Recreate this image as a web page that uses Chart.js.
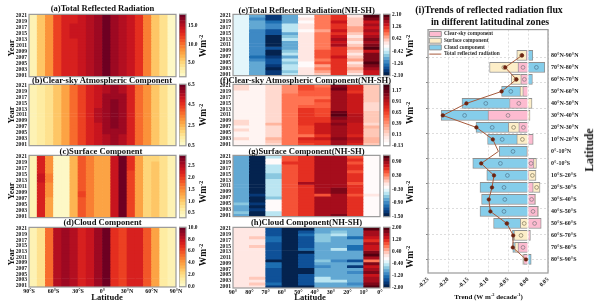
<!DOCTYPE html>
<html>
<head>
<meta charset="utf-8">
<title>Reflected radiation flux</title>
<script src="https://cdn.jsdelivr.net/npm/chart.js@4"></script>
<style>
    html, body { margin: 0; padding: 0; background: #ffffff; }
    #page { position: relative; width: 600px; height: 308px; overflow: hidden; font-family: "Liberation Serif", serif; font-weight: bold; color: #111; }
    #page canvas { position: absolute; }
    .label { position: absolute; white-space: nowrap; transform: translate(-50%, -50%); line-height: 1; }
    .label.up { transform: translate(-50%, -50%) rotate(-90deg); }
    .label sup { font-size: 0.62em; vertical-align: 0.5em; line-height: 0; }
</style>
</head>
<body>
<div id="page"></div>
<script>
const years = [2021, 2020, 2019, 2018, 2017, 2016, 2015, 2014, 2013, 2012, 2011, 2010, 2009, 2008, 2007, 2006, 2005, 2004, 2003, 2002, 2001];
const yearTicks = [2001, 2003, 2005, 2007, 2009, 2011, 2013, 2015, 2017, 2019, 2021];

// column centres of the latitude bands
const globalBands = [-85, -75, -65, -55, -45, -35, -25, -15, -5, 5, 15, 25, 35, 45, 55, 65, 75, 85];
const northBands = [85, 75, 65, 55, 45, 35, 25, 15, 5];

/* rows run from 2021 down to 2001, as in the picture */
const totalFlux = [
    [2.5, 5.6, 8.6, 11.6, 13.6, 13.6, 14.1, 15.1, 16.3, 17.9, 15.6, 15.1, 14.0, 12.6, 9.0, 6.1, 4.0, 2.0],
    [2.5, 5.6, 8.6, 11.6, 13.6, 13.6, 14.1, 15.1, 16.3, 17.9, 15.6, 15.1, 14.0, 12.6, 9.0, 6.1, 4.0, 2.0],
    [2.5, 5.6, 8.6, 11.6, 13.6, 13.6, 14.1, 15.1, 16.3, 17.9, 15.6, 15.1, 14.0, 12.6, 9.0, 6.1, 4.0, 2.0],
    [2.5, 5.6, 8.6, 11.6, 13.6, 13.9, 14.1, 15.1, 16.3, 18.0, 15.6, 15.1, 14.0, 12.6, 9.1, 6.1, 4.0, 2.0],
    [2.5, 5.6, 8.6, 11.6, 13.6, 13.9, 14.1, 15.1, 16.3, 18.0, 15.6, 15.1, 14.0, 12.6, 9.1, 6.1, 4.0, 2.0],
    [2.5, 5.6, 8.6, 11.6, 13.6, 13.9, 14.1, 15.1, 16.3, 18.0, 15.9, 15.1, 14.0, 12.6, 9.1, 6.1, 4.0, 2.0],
    [2.5, 5.6, 8.6, 11.6, 13.6, 13.9, 14.1, 15.1, 16.3, 18.0, 15.9, 15.1, 14.0, 12.6, 9.1, 6.1, 4.0, 2.0],
    [2.5, 5.6, 8.6, 11.9, 13.6, 13.9, 14.1, 15.1, 16.3, 18.0, 15.9, 15.1, 14.0, 12.6, 9.1, 6.1, 4.0, 2.0],
    [2.5, 5.6, 8.6, 11.9, 13.6, 13.6, 14.1, 15.1, 16.3, 18.0, 15.9, 15.1, 14.2, 12.6, 9.1, 6.1, 4.0, 2.0],
    [2.5, 5.6, 8.6, 11.9, 13.6, 13.6, 14.1, 15.1, 16.3, 18.0, 15.9, 15.1, 14.2, 12.6, 9.1, 6.1, 4.0, 2.0],
    [2.5, 5.6, 8.6, 11.9, 13.6, 13.6, 14.1, 15.1, 16.3, 18.0, 15.9, 15.1, 14.2, 12.6, 9.1, 6.1, 4.0, 2.0],
    [2.5, 5.6, 8.6, 11.9, 13.6, 13.6, 14.1, 15.1, 16.3, 18.0, 15.6, 15.1, 14.2, 12.6, 9.1, 6.1, 4.0, 2.0],
    [2.5, 5.6, 8.6, 11.9, 13.6, 13.6, 14.1, 15.1, 16.3, 18.0, 15.6, 15.1, 14.2, 12.6, 9.1, 6.1, 4.0, 2.0],
    [2.5, 5.6, 8.6, 11.9, 13.6, 13.6, 14.1, 15.1, 16.3, 18.0, 15.6, 15.1, 14.2, 12.6, 9.1, 6.1, 4.0, 2.0],
    [2.5, 5.6, 8.6, 11.6, 13.6, 13.6, 14.1, 15.1, 16.3, 18.0, 15.6, 15.1, 14.2, 12.6, 9.1, 6.1, 4.0, 2.0],
    [2.5, 5.6, 8.6, 11.6, 13.6, 13.6, 14.1, 15.1, 16.3, 18.0, 15.6, 15.1, 14.2, 12.6, 9.1, 6.1, 4.0, 2.0],
    [2.5, 5.6, 8.6, 11.6, 13.6, 13.6, 14.1, 15.1, 16.3, 18.0, 15.6, 15.1, 14.2, 12.6, 9.1, 6.1, 4.0, 2.0],
    [2.5, 5.6, 8.6, 11.6, 13.6, 13.6, 14.1, 15.1, 16.3, 17.9, 15.6, 15.1, 14.0, 12.6, 9.1, 6.1, 4.0, 2.0],
    [2.5, 5.6, 8.6, 11.6, 13.6, 13.6, 14.1, 15.1, 16.3, 17.9, 15.6, 15.1, 14.0, 12.6, 9.0, 6.1, 4.0, 2.0],
    [2.5, 5.6, 8.6, 11.6, 13.6, 13.6, 14.1, 15.1, 16.3, 17.9, 15.6, 15.1, 14.0, 12.6, 9.0, 6.1, 4.0, 2.0],
    [2.5, 5.6, 8.6, 11.6, 13.6, 13.6, 14.1, 15.1, 16.3, 17.9, 15.6, 15.1, 14.0, 12.6, 9.0, 6.1, 4.0, 2.0]
];
const clearFlux = [
    [1.0, 1.2, 1.6, 2.2, 2.9, 3.5, 4.3, 4.8, 5.3, 5.5, 5.7, 5.5, 4.7, 3.8, 3.0, 2.1, 1.4, 0.9],
    [1.0, 1.2, 1.6, 2.2, 2.9, 3.5, 4.3, 4.8, 5.3, 5.5, 5.7, 5.5, 4.7, 3.8, 3.0, 2.1, 1.4, 0.9],
    [1.0, 1.2, 1.6, 2.2, 2.9, 3.5, 4.3, 4.8, 5.3, 5.5, 5.7, 5.5, 4.7, 3.8, 3.0, 2.1, 1.4, 0.9],
    [1.0, 1.2, 1.6, 2.2, 2.9, 3.5, 4.3, 4.8, 5.3, 5.6, 5.8, 5.6, 4.7, 3.8, 3.0, 2.1, 1.4, 0.9],
    [1.0, 1.2, 1.6, 2.2, 2.9, 3.5, 4.3, 4.8, 5.3, 5.6, 5.8, 5.6, 4.7, 3.8, 3.0, 2.1, 1.4, 0.9],
    [1.0, 1.2, 1.6, 2.2, 2.9, 3.5, 4.3, 4.8, 5.3, 5.6, 5.9, 5.6, 4.7, 3.8, 3.0, 2.1, 1.4, 0.9],
    [1.0, 1.2, 1.6, 2.2, 2.9, 3.5, 4.3, 4.8, 5.3, 5.6, 5.9, 5.6, 4.7, 3.8, 3.0, 2.1, 1.4, 0.9],
    [1.0, 1.2, 1.6, 2.2, 2.9, 3.5, 4.3, 4.8, 5.3, 5.6, 5.9, 5.7, 4.7, 3.8, 3.0, 2.1, 1.4, 0.9],
    [1.0, 1.2, 1.6, 2.2, 2.9, 3.5, 4.3, 4.8, 5.4, 5.7, 6.0, 5.7, 4.7, 3.8, 3.0, 2.1, 1.4, 0.9],
    [1.0, 1.2, 1.6, 2.2, 2.9, 3.5, 4.3, 4.8, 5.4, 5.7, 6.0, 5.7, 4.8, 3.8, 3.0, 2.1, 1.4, 0.9],
    [1.0, 1.2, 1.6, 2.2, 2.9, 3.5, 4.3, 4.8, 5.4, 5.7, 6.0, 5.7, 4.8, 3.8, 3.0, 2.1, 1.4, 0.9],
    [1.0, 1.2, 1.6, 2.2, 2.9, 3.5, 4.3, 4.8, 5.4, 5.7, 6.0, 5.7, 4.8, 3.8, 3.0, 2.1, 1.4, 0.9],
    [1.0, 1.2, 1.6, 2.2, 2.9, 3.5, 4.3, 4.8, 5.4, 5.7, 5.9, 5.6, 4.8, 3.8, 3.0, 2.1, 1.4, 0.9],
    [1.0, 1.2, 1.6, 2.2, 2.9, 3.5, 4.3, 4.8, 5.3, 5.6, 5.9, 5.6, 4.7, 3.8, 3.0, 2.1, 1.4, 0.9],
    [1.0, 1.2, 1.6, 2.2, 2.9, 3.5, 4.3, 4.8, 5.3, 5.6, 5.9, 5.6, 4.7, 3.8, 3.0, 2.1, 1.4, 0.9],
    [1.0, 1.2, 1.6, 2.2, 2.9, 3.5, 4.3, 4.8, 5.3, 5.6, 5.8, 5.6, 4.7, 3.8, 3.0, 2.1, 1.4, 0.9],
    [1.0, 1.2, 1.6, 2.2, 2.9, 3.5, 4.3, 4.8, 5.3, 5.6, 5.8, 5.6, 4.7, 3.8, 3.0, 2.1, 1.4, 0.9],
    [1.0, 1.2, 1.6, 2.2, 2.9, 3.5, 4.3, 4.8, 5.3, 5.5, 5.8, 5.5, 4.7, 3.8, 3.0, 2.1, 1.4, 0.9],
    [1.0, 1.2, 1.6, 2.2, 2.9, 3.5, 4.3, 4.8, 5.3, 5.5, 5.7, 5.5, 4.7, 3.8, 3.0, 2.1, 1.4, 0.9],
    [1.0, 1.2, 1.6, 2.2, 2.9, 3.5, 4.3, 4.8, 5.3, 5.5, 5.7, 5.5, 4.7, 3.8, 3.0, 2.1, 1.4, 0.9],
    [1.0, 1.2, 1.6, 2.2, 2.9, 3.5, 4.3, 4.8, 5.3, 5.5, 5.7, 5.5, 4.7, 3.8, 3.0, 2.1, 1.4, 0.9]
];
const surfaceFlux = [
    [0.55, 2.25, 1.40, 0.42, 0.42, 1.15, 1.85, 1.60, 1.35, 1.35, 2.35, 2.80, 2.05, 1.35, 0.90, 0.95, 0.75, 0.45],
    [0.55, 2.25, 1.40, 0.42, 0.42, 1.15, 1.85, 1.60, 1.35, 1.35, 2.35, 2.80, 2.05, 1.35, 0.90, 0.95, 0.75, 0.45],
    [0.55, 2.25, 1.40, 0.42, 0.42, 1.15, 1.85, 1.60, 1.35, 1.35, 2.35, 2.80, 2.05, 1.35, 0.90, 1.05, 0.75, 0.45],
    [0.55, 2.25, 1.40, 0.42, 0.42, 1.15, 1.85, 1.60, 1.35, 1.35, 2.35, 2.80, 2.05, 1.35, 0.90, 1.05, 0.75, 0.45],
    [0.55, 2.25, 1.40, 0.42, 0.42, 1.15, 1.85, 1.60, 1.35, 1.35, 2.35, 2.80, 2.05, 1.35, 0.90, 1.05, 0.75, 0.45],
    [0.55, 2.25, 1.40, 0.42, 0.42, 1.15, 1.85, 1.60, 1.35, 1.35, 2.35, 2.80, 1.90, 1.35, 0.90, 1.05, 0.75, 0.45],
    [0.55, 2.30, 1.50, 0.42, 0.42, 1.15, 1.85, 1.60, 1.35, 1.35, 2.35, 2.80, 1.90, 1.35, 0.90, 1.05, 0.75, 0.45],
    [0.55, 2.30, 1.50, 0.42, 0.42, 1.15, 1.85, 1.60, 1.35, 1.35, 2.35, 2.80, 1.90, 1.35, 0.90, 1.05, 0.75, 0.45],
    [0.55, 2.30, 1.50, 0.42, 0.42, 1.15, 1.85, 1.60, 1.35, 1.35, 2.35, 2.80, 1.90, 1.35, 0.90, 1.05, 0.75, 0.45],
    [0.55, 2.25, 1.40, 0.42, 0.42, 1.15, 1.85, 1.60, 1.35, 1.35, 2.35, 2.80, 1.90, 1.35, 0.90, 1.05, 0.75, 0.45],
    [0.55, 2.25, 1.40, 0.42, 0.42, 1.15, 1.85, 1.60, 1.35, 1.35, 2.35, 2.80, 1.90, 1.35, 0.90, 1.05, 0.75, 0.45],
    [0.55, 2.25, 1.40, 0.42, 0.42, 1.15, 1.85, 1.60, 1.35, 1.35, 2.35, 2.80, 1.90, 1.35, 0.90, 1.05, 0.75, 0.45],
    [0.55, 2.25, 1.40, 0.42, 0.42, 1.15, 2.00, 1.60, 1.35, 1.35, 2.35, 2.80, 1.90, 1.35, 0.90, 1.05, 0.75, 0.45],
    [0.55, 2.25, 1.40, 0.42, 0.42, 1.15, 2.00, 1.60, 1.35, 1.35, 2.35, 2.80, 1.90, 1.35, 0.90, 1.05, 0.75, 0.45],
    [0.55, 2.25, 1.30, 0.42, 0.42, 1.15, 1.85, 1.60, 1.35, 1.35, 2.35, 2.80, 1.90, 1.35, 0.90, 1.05, 0.75, 0.45],
    [0.55, 2.25, 1.30, 0.42, 0.42, 1.15, 1.85, 1.60, 1.35, 1.35, 2.35, 2.80, 1.90, 1.35, 0.90, 1.05, 0.75, 0.45],
    [0.55, 2.25, 1.30, 0.42, 0.42, 1.15, 1.85, 1.60, 1.35, 1.35, 2.35, 2.80, 1.90, 1.35, 0.90, 1.00, 0.75, 0.45],
    [0.55, 2.25, 1.30, 0.42, 0.42, 1.15, 1.85, 1.60, 1.35, 1.35, 2.35, 2.80, 1.90, 1.35, 0.90, 1.00, 0.75, 0.45],
    [0.55, 2.25, 1.30, 0.42, 0.42, 1.15, 1.85, 1.60, 1.35, 1.35, 2.35, 2.80, 1.90, 1.35, 0.90, 1.00, 0.75, 0.45],
    [0.55, 2.25, 1.30, 0.42, 0.42, 1.15, 1.85, 1.60, 1.35, 1.35, 2.35, 2.80, 1.90, 1.35, 0.90, 1.00, 0.75, 0.45],
    [0.55, 2.25, 1.30, 0.42, 0.42, 1.15, 1.85, 1.60, 1.35, 1.35, 2.35, 2.80, 1.90, 1.35, 0.90, 1.00, 0.75, 0.45]
];
const cloudFlux = [
    [0.7, 1.8, 5.2, 8.0, 8.7, 8.0, 7.0, 7.6, 8.5, 9.8, 6.6, 6.2, 7.4, 7.4, 5.9, 3.6, 1.2, 0.8],
    [0.7, 1.8, 5.2, 8.0, 8.7, 8.0, 7.0, 7.6, 8.5, 9.8, 6.6, 6.2, 7.4, 7.4, 5.9, 3.6, 1.2, 0.8],
    [0.7, 1.8, 5.2, 8.0, 8.7, 8.0, 7.0, 7.6, 8.5, 9.8, 6.9, 6.2, 7.4, 7.4, 5.9, 3.6, 1.2, 0.8],
    [0.7, 1.8, 5.2, 8.0, 8.7, 8.0, 7.0, 7.6, 8.5, 9.8, 6.9, 6.2, 7.4, 7.4, 5.9, 3.6, 1.2, 0.8],
    [0.7, 1.8, 5.2, 8.0, 8.7, 8.0, 7.0, 7.6, 8.5, 9.8, 6.6, 6.2, 7.4, 7.4, 5.9, 3.6, 1.2, 0.8],
    [0.7, 1.8, 5.2, 8.0, 8.7, 8.0, 7.0, 7.6, 8.5, 9.8, 6.6, 6.2, 7.4, 7.4, 5.9, 3.6, 1.2, 0.8],
    [0.7, 1.8, 5.2, 8.0, 8.7, 8.0, 7.0, 7.6, 8.5, 9.8, 6.6, 6.2, 7.4, 7.4, 5.9, 3.6, 1.2, 0.8],
    [0.7, 1.8, 5.2, 8.0, 8.7, 8.0, 7.0, 7.6, 8.5, 9.8, 6.9, 6.2, 7.4, 7.4, 5.9, 3.6, 1.2, 0.8],
    [0.7, 1.8, 5.2, 8.0, 8.7, 8.0, 7.0, 7.6, 8.5, 9.8, 6.9, 6.2, 7.4, 7.4, 5.9, 3.6, 1.2, 0.8],
    [0.7, 1.8, 5.2, 8.0, 8.7, 8.0, 7.0, 7.6, 8.5, 9.8, 6.6, 6.2, 7.4, 7.4, 5.9, 3.6, 1.2, 0.8],
    [0.7, 1.8, 5.2, 8.0, 8.7, 8.0, 7.0, 7.6, 8.5, 9.8, 6.6, 6.2, 7.4, 7.4, 5.9, 3.6, 1.2, 0.8],
    [0.7, 1.8, 5.2, 8.0, 8.7, 8.0, 7.0, 7.6, 8.5, 9.8, 6.6, 6.2, 7.4, 7.4, 5.9, 3.6, 1.2, 0.8],
    [0.7, 1.8, 5.2, 8.0, 8.7, 8.0, 7.0, 7.9, 8.5, 9.8, 6.9, 6.2, 7.4, 7.4, 5.9, 3.6, 1.2, 0.8],
    [0.7, 1.8, 5.2, 8.0, 8.7, 8.0, 7.0, 7.6, 8.5, 9.8, 6.9, 6.2, 7.4, 7.4, 5.9, 3.6, 1.2, 0.8],
    [0.7, 1.8, 5.2, 8.0, 8.7, 8.0, 7.0, 7.6, 8.5, 9.8, 6.9, 6.2, 7.4, 7.4, 5.9, 3.6, 1.2, 0.8],
    [0.7, 1.8, 5.2, 8.0, 8.7, 8.0, 7.0, 7.6, 8.5, 9.8, 6.9, 6.2, 7.4, 7.4, 5.9, 3.6, 1.2, 0.8],
    [0.7, 1.8, 5.2, 8.0, 8.7, 8.0, 7.0, 7.6, 8.5, 9.8, 6.9, 6.2, 7.4, 7.4, 5.9, 3.6, 1.2, 0.8],
    [0.7, 1.8, 5.2, 8.0, 8.7, 8.0, 7.0, 7.6, 8.5, 9.8, 6.6, 6.2, 7.4, 7.4, 5.9, 3.6, 1.2, 0.8],
    [0.7, 1.8, 5.2, 8.0, 8.7, 8.0, 7.0, 7.6, 8.5, 9.8, 6.6, 6.2, 7.4, 7.4, 5.9, 3.6, 1.2, 0.8],
    [0.7, 1.8, 5.2, 8.0, 8.7, 8.0, 7.0, 7.6, 8.5, 9.8, 6.6, 6.2, 7.4, 7.4, 5.9, 3.6, 1.2, 0.8],
    [0.7, 1.8, 5.2, 8.0, 8.7, 8.0, 7.0, 7.6, 8.5, 9.8, 6.6, 6.2, 7.4, 7.4, 5.9, 3.6, 1.2, 0.8]
];
const totalDiff = [
    [-0.30, -1.00, -1.70, -0.85, -0.20, 0.65, 1.10, 0.10, 2.00],
    [-0.30, -1.10, -1.70, -0.85, 0.20, 0.70, 1.25, 0.30, 1.85],
    [-0.30, -0.85, -1.35, -0.85, -0.10, 0.75, 1.35, 0.25, 1.45],
    [-0.30, -1.05, -1.25, -0.55, 0.10, 0.80, 1.10, 0.40, 1.55],
    [-0.30, -1.05, -1.25, -0.55, 0.05, 0.80, 1.25, 0.45, 1.35],
    [-0.30, -1.10, -1.60, -0.50, -0.10, 0.55, 1.30, 0.45, 1.50],
    [-0.30, -1.10, -1.65, -0.85, 0.10, 0.70, 1.15, 0.30, 1.40],
    [-0.30, -1.10, -1.90, -0.80, 0.15, 0.75, 1.40, 0.20, 1.55],
    [-0.30, -1.10, -2.05, -0.50, 0.05, 0.70, 1.55, 0.35, 1.70],
    [-0.30, -1.10, -2.05, -0.85, 0.20, 0.80, 1.35, 0.15, 1.60],
    [-0.30, -1.10, -2.05, -0.85, 0.15, 0.65, 1.50, 0.40, 1.75],
    [-0.30, -1.10, -1.55, -0.85, 0.15, 0.65, 1.15, 0.45, 2.05],
    [-0.30, -1.10, -2.05, -0.65, 0.15, 0.85, 1.25, 0.35, 1.30],
    [-0.30, -1.10, -2.05, -0.55, 0.15, 0.85, 1.15, 0.20, 1.70],
    [-0.30, -1.35, -1.70, -0.85, 0.15, 0.85, 1.30, 0.35, 1.75],
    [-0.30, -1.10, -1.65, -0.60, 0.15, 0.80, 1.10, 0.45, 1.80],
    [-0.30, -0.95, -1.65, -0.80, -0.05, 0.90, 1.25, 0.15, 1.95],
    [-0.30, -1.05, -1.75, -0.55, -0.05, 0.60, 1.10, 0.40, 1.75],
    [-0.30, -0.90, -1.90, -0.55, 0.10, 0.70, 1.10, 0.45, 1.55],
    [-0.30, -1.05, -1.80, -0.65, 0.10, 0.60, 1.10, 0.30, 1.35],
    [-0.30, -1.05, -1.70, -0.55, 0.05, 0.25, 1.15, 0.20, 1.40]
];
const clearDiff = [
    [0.10, -0.05, 0.10, 0.42, 0.60, 0.50, 1.05, 0.75, 0.22],
    [0.10, -0.05, 0.10, 0.42, 0.60, 0.55, 1.12, 0.75, 0.22],
    [-0.05, -0.05, 0.10, 0.42, 0.55, 0.55, 1.00, 0.70, 0.22],
    [-0.05, -0.05, 0.10, 0.45, 0.55, 0.55, 1.00, 0.85, 0.18],
    [-0.05, -0.05, 0.10, 0.45, 0.50, 0.50, 1.00, 0.85, 0.18],
    [-0.05, -0.05, 0.10, 0.45, 0.50, 0.62, 1.00, 0.85, 0.18],
    [-0.05, -0.05, 0.10, 0.45, 0.50, 0.55, 1.00, 0.85, 0.15],
    [-0.05, -0.05, 0.10, 0.45, 0.55, 0.55, 1.00, 0.85, 0.15],
    [-0.05, -0.05, 0.10, 0.52, 0.70, 0.60, 1.00, 0.85, 0.15],
    [-0.05, -0.05, 0.10, 0.52, 0.70, 0.65, 1.15, 0.85, 0.22],
    [-0.05, -0.05, 0.10, 0.45, 0.70, 0.65, 1.22, 0.95, 0.22],
    [-0.05, -0.05, 0.10, 0.45, 0.70, 0.70, 1.05, 0.90, 0.20],
    [0.10, -0.05, 0.10, 0.45, 0.72, 0.70, 1.00, 0.90, 0.20],
    [0.10, -0.05, 0.25, 0.50, 0.72, 0.85, 1.10, 0.85, 0.10],
    [-0.05, -0.05, 0.10, 0.50, 0.60, 0.85, 1.00, 0.85, 0.28],
    [0.10, -0.05, 0.10, 0.50, 0.60, 0.85, 1.00, 0.85, 0.22],
    [-0.05, -0.05, 0.10, 0.50, 0.60, 0.85, 1.00, 0.85, 0.22],
    [-0.05, -0.05, 0.10, 0.45, 0.50, 0.70, 1.00, 0.80, 0.18],
    [0.10, -0.05, 0.25, 0.45, 0.80, 0.85, 1.05, 0.95, 0.25],
    [-0.05, -0.05, 0.20, 0.52, 0.70, 0.70, 1.00, 0.85, 0.25],
    [-0.05, -0.05, 0.10, 0.50, 0.62, 0.70, 1.00, 0.75, 0.20]
];
const surfaceDiff = [
    [-0.75, -1.45, -0.45, 0.40, 0.55, 0.80, 0.80, 0.50, -0.22],
    [-0.75, -1.45, -0.25, 0.40, 0.55, 0.80, 0.80, 0.55, -0.22],
    [-0.75, -1.45, -0.25, 0.60, 0.55, 0.80, 0.80, 0.40, -0.22],
    [-0.75, -1.45, -0.45, 0.40, 0.55, 0.80, 0.80, 0.55, -0.22],
    [-0.75, -1.45, -0.45, 0.40, 0.55, 0.80, 0.80, 0.55, -0.22],
    [-0.75, -1.45, -0.55, 0.40, 0.55, 0.80, 0.80, 0.50, -0.22],
    [-0.75, -1.45, -0.65, 0.40, 0.55, 0.80, 0.80, 0.55, -0.22],
    [-0.75, -1.45, -0.65, 0.40, 0.55, 0.80, 0.80, 0.55, -0.22],
    [-0.75, -1.45, -0.50, 0.40, 0.55, 0.80, 0.80, 0.55, -0.22],
    [-0.75, -1.45, -0.50, 0.40, 0.80, 0.80, 0.80, 0.50, -0.22],
    [-0.75, -1.45, -0.50, 0.40, 0.55, 0.80, 0.80, 0.55, -0.22],
    [-0.75, -1.45, -0.50, 0.40, 0.55, 0.80, 0.95, 0.55, -0.22],
    [-0.75, -1.45, -0.50, 0.40, 0.55, 0.80, 0.95, 0.55, -0.22],
    [-0.75, -1.35, -0.50, 0.40, 0.55, 0.50, 0.80, 0.40, -0.10],
    [-0.75, -1.45, -0.60, 0.40, 0.55, 0.80, 0.80, 0.55, -0.22],
    [-0.75, -1.45, -0.25, 0.40, 0.55, 0.80, 0.80, 0.55, -0.22],
    [-0.60, -1.35, -0.25, 0.40, 0.55, 0.80, 0.80, 0.55, -0.22],
    [-0.75, -1.45, -0.25, 0.40, 0.55, 0.80, 0.80, 0.55, -0.22],
    [-0.75, -1.35, -0.25, 0.40, 0.55, 0.80, 0.80, 0.55, -0.22],
    [-0.65, -1.45, -0.45, 0.40, 0.55, 0.80, 0.80, 0.55, -0.22],
    [-0.75, -1.45, -0.45, 0.40, 0.55, 0.80, 0.95, 0.55, -0.22]
];
const cloudDiff = [
    [0.12, 0.12, -1.45, -1.90, -1.85, -1.00, -0.85, -1.00, 1.90],
    [0.00, 0.12, -1.45, -1.90, -1.45, -0.85, -0.65, -1.00, 1.55],
    [0.12, 0.12, -1.45, -1.85, -1.30, -0.75, -0.55, -0.85, 1.50],
    [0.12, 0.30, -1.25, -1.90, -1.50, -0.65, -0.85, -1.25, 1.30],
    [0.12, 0.12, -1.25, -1.90, -1.50, -0.75, -0.85, -0.85, 1.15],
    [0.05, 0.12, -1.45, -1.85, -1.50, -0.95, -0.85, -1.00, 1.45],
    [0.12, 0.30, -1.45, -1.90, -1.45, -0.95, -0.85, -1.25, 1.35],
    [0.12, 0.12, -1.50, -1.90, -1.35, -0.85, -0.55, -1.25, 1.25],
    [0.12, 0.12, -1.50, -1.95, -1.80, -0.95, -0.85, -0.95, 1.70],
    [0.05, 0.12, -1.50, -1.95, -1.45, -0.95, -0.85, -0.95, 1.90],
    [0.05, 0.12, -1.50, -1.95, -1.45, -0.95, -0.85, -1.00, 1.40],
    [0.12, 0.12, -1.85, -1.95, -1.45, -0.70, -1.05, -1.50, 0.70],
    [0.05, 0.05, -1.30, -1.95, -1.45, -0.85, -0.85, -1.00, 1.65],
    [0.12, 0.12, -1.40, -1.90, -1.45, -1.05, -0.85, -1.65, 1.30],
    [0.05, 0.12, -1.55, -1.95, -1.85, -0.95, -0.85, -1.00, 1.55],
    [0.12, 0.12, -1.45, -1.95, -1.85, -0.85, -0.95, -1.10, 1.65],
    [0.12, 0.12, -1.50, -1.95, -1.55, -0.85, -0.85, -1.00, 1.25],
    [0.12, 0.32, -1.50, -1.90, -1.50, -0.60, -0.85, -0.85, 1.55],
    [0.12, 0.12, -1.45, -1.90, -1.50, -0.60, -0.60, -0.85, 1.45],
    [0.12, 0.32, -1.40, -1.90, -1.50, -0.85, -0.85, -1.20, 1.60],
    [0.12, 0.12, -1.60, -1.85, -1.85, -1.00, -1.00, -1.00, 1.80]
];

// panel (i), top row is 80-90N
const zoneLabels = ["80°N-90°N", "70°N-80°N", "60°N-70°N", "50°N-60°N", "40°N-50°N", "30°N-40°N", "20°N-30°N", "10°N-20°N", "0°-10°N",
    "0°-10°S", "10°S-20°S", "20°S-30°S", "30°S-40°S", "40°S-50°S", "50°S-60°S", "60°S-70°S", "70°S-80°S", "80°S-90°S"];
const zoneIndex = [0, 1, 2, 3, 4, 5, 6, 7, 8, 9, 10, 11, 12, 13, 14, 15, 16, 17];
const clearTrend = [-0.004, -0.025, -0.018, -0.013, -0.046, -0.100, -0.023, 0.013, -0.001, 0.015, 0.002, 0.013, 0.018, 0.025, 0.033, 0.006, -0.025, -0.011];
const surfaceTrend = [-0.024, -0.071, -0.024, -0.007, 0.010, 0.005, -0.026, -0.028, -0.002, 0.006, 0.018, 0.017, 0.001, 0.001, -0.019, -0.035, -0.008, -0.002];
const cloudTrend = [0.012, 0.042, 0.011, -0.046, -0.119, -0.117, -0.081, -0.073, -0.069, -0.138, -0.103, -0.120, -0.116, -0.120, -0.067, -0.004, -0.005, 0.008];
const totalTrend = [-0.015, -0.057, -0.029, -0.066, -0.154, -0.213, -0.129, -0.088, -0.074, -0.117, -0.085, -0.090, -0.098, -0.094, -0.053, -0.037, -0.038, -0.005];
const trendTicks = [-0.25, -0.20, -0.15, -0.10, -0.05, 0.00, 0.05];
const sideTicks = [10, 20, 30, 40, 50, 60, 70, 80, 90];

const warmColors = ["#fdf8c6", "#feeba0", "#fed476", "#fdae4b", "#fb8a36", "#f5602a", "#e8321f", "#cd161f", "#a00a22", "#6e0022"];
const divergingColors = ["#04234f", "#08428a", "#1b6cb0", "#4a94cb", "#84c3dd", "#c9eef7", "#ffffff", "#ffe2de", "#ffb09a", "#ff7350", "#ee3a24", "#c7121b", "#930a1c", "#520010"];
const redColors = ["#ffffff", "#ffe8e4", "#ffc4b2", "#ff9a7c", "#ff6a48", "#ee3a24", "#cf1a1a", "#a50f1c", "#6e0016", "#420010"];

const serif = "'Liberation Serif', serif";
const frameColor = "#9a9a9a";
const levels = 20;

const page = document.getElementById("page");

/*
 * Colour of a value: the scale is binned, like the filled contours of the reference
 */
function binColor(value, min, max, colors) {
    const bin = Math.min(levels - 1, Math.max(0, Math.floor((value - min) / (max - min) * levels)));
    const pos = bin / (levels - 1) * (colors.length - 1);
    const low = Math.floor(pos);
    const high = Math.min(colors.length - 1, low + 1);
    const mix = pos - low;
    const a = colors[low], b = colors[high];
    const part = i => Math.round(parseInt(a.substr(i, 2), 16) * (1 - mix) + parseInt(b.substr(i, 2), 16) * mix);
    return "rgb(" + part(1) + "," + part(3) + "," + part(5) + ")";
}

// plain frame round the plot area
const framePlugin = {
    id: "frame",
    afterDraw(chart) {
        const a = chart.chartArea;
        chart.ctx.save();
        chart.ctx.strokeStyle = frameColor;
        chart.ctx.lineWidth = 1.2;
        chart.ctx.strokeRect(a.left, a.top, a.right - a.left, a.bottom - a.top);
        chart.ctx.restore();
    }
};

// a chartArea legend is laid out from the canvas top, move it into the plot
const legendPlacePlugin = {
    id: "legendPlace",
    afterLayout(chart) {
        chart.legend.top = 7;
    }
};

function addCanvas(left, top, width, height) {
    const canvas = document.createElement("canvas");
    canvas.width = width;
    canvas.height = height;
    canvas.style.left = left + "px";
    canvas.style.top = top + "px";
    canvas.style.width = width + "px";
    canvas.style.height = height + "px";
    page.appendChild(canvas);
    return canvas;
}

function addLabel(html, x, y, size, up) {
    const label = document.createElement("div");
    label.className = up ? "label up" : "label";
    label.innerHTML = html;
    label.style.left = x + "px";
    label.style.top = y + "px";
    label.style.fontSize = size + "px";
    page.appendChild(label);
}

/*
 * One heatmap panel: a floating bar per cell
 */
function heatmap(box, bands, rows, range, colors, xAxis) {

    const leftRoom = 22;
    const topRoom = 5;
    const bottomRoom = xAxis ? 11 : 5;
    const rightRoom = 10;

    const canvas = addCanvas(box.x - leftRoom, box.y - topRoom, box.w + leftRoom + rightRoom, box.h + topRoom + bottomRoom);

    const datasets = years.map((year, r) => ({
        data: bands.map(band => ({ x: band, y: [year - 0.5, year + 0.5] })),
        backgroundColor: rows[r].map(v => binColor(v, range.min, range.max, colors)),
        grouped: false,
        categoryPercentage: 1,
        barPercentage: 1
    }));

    new Chart(canvas, {
        type: "bar",
        data: { datasets: datasets },
        plugins: [framePlugin],
        options: {
            responsive: false,
            animation: false,
            layout: { padding: { top: topRoom, right: rightRoom, bottom: xAxis ? 0 : bottomRoom, left: 0 } },
            plugins: { legend: { display: false }, tooltip: { enabled: false } },
            scales: {
                x: xAxis ? {
                    type: "linear",
                    offset: false,
                    min: xAxis.min,
                    max: xAxis.max,
                    reverse: xAxis.reverse,
                    grid: { display: false, drawTicks: false },
                    border: { display: false },
                    afterBuildTicks: axis => { axis.ticks = xAxis.ticks.map(v => ({ value: v })); },
                    afterFit: axis => { axis.height = bottomRoom; },
                    ticks: {
                        padding: 1,
                        maxRotation: 0,
                        autoSkip: false,
                        color: "#111",
                        font: { family: serif, size: 6, weight: "bold" },
                        callback: xAxis.format
                    }
                } : { type: "linear", offset: false, min: box.xMin, max: box.xMax, reverse: box.xMin === 0, display: false },
                y: {
                    type: "linear",
                    min: 2000.5,
                    max: 2021.5,
                    grid: { display: false, drawTicks: false },
                    border: { display: false },
                    afterBuildTicks: axis => { axis.ticks = yearTicks.map(v => ({ value: v })); },
                    afterFit: axis => { axis.width = leftRoom; },
                    ticks: {
                        padding: 2,
                        autoSkip: false,
                        color: "#111",
                        font: { family: serif, size: 5.6, weight: "bold" },
                        callback: v => String(v)
                    }
                }
            }
        }
    });
}

/*
 * Colour bar of a panel: one floating bar per bin
 */
function colorBar(box, ticks, digits, range, colors) {

    const topRoom = 5;
    const rightRoom = 22;
    const canvas = addCanvas(box.x, box.y - topRoom, box.w + rightRoom, box.h + 2 * topRoom);
    const step = (range.max - range.min) / levels;
    const datasets = [];

    for (let i = 0; i < levels; i++) {
        const start = range.min + i * step;
        datasets.push({
            data: [[start, start + step]],
            backgroundColor: binColor(start + step / 2, range.min, range.max, colors),
            grouped: false,
            categoryPercentage: 1,
            barPercentage: 1
        });
    }

    new Chart(canvas, {
        type: "bar",
        data: { labels: [""], datasets: datasets },
        plugins: [framePlugin],
        options: {
            responsive: false,
            animation: false,
            layout: { padding: { top: topRoom, right: 0, bottom: topRoom, left: 0 } },
            plugins: { legend: { display: false }, tooltip: { enabled: false } },
            scales: {
                x: { display: false },
                y: {
                    type: "linear",
                    position: "right",
                    min: range.min,
                    max: range.max,
                    grid: { display: false, drawTicks: false },
                    border: { display: false },
                    afterBuildTicks: axis => { axis.ticks = ticks.map(v => ({ value: v })); },
                    afterFit: axis => { axis.width = rightRoom; },
                    ticks: {
                        padding: 2,
                        autoSkip: false,
                        color: "#111",
                        font: { family: serif, size: 5.4, weight: "bold" },
                        callback: v => v.toFixed(digits)
                    }
                }
            }
        }
    });
}

const southNorthAxis = {
    min: -90, max: 90, reverse: false,
    ticks: [-90, -60, -30, 0, 30, 60, 90],
    format: v => v === 0 ? "0°" : Math.abs(v) + (v < 0 ? "°S" : "°N")
};
const northAxis = {
    min: 0, max: 90, reverse: true,
    ticks: [90, 80, 70, 60, 50, 40, 30, 20, 10, 0],
    format: v => v + "°"
};

const leftCol = { x: 29, w: 147, xMin: -90, xMax: 90 };
const rightCol = { x: 233, w: 147, xMin: 0, xMax: 90 };

heatmap({ ...leftCol, y: 14, h: 63 }, globalBands, totalFlux, { min: 1.3, max: 18.1 }, warmColors);
heatmap({ ...leftCol, y: 84, h: 62 }, globalBands, clearFlux, { min: 0.5, max: 6.5 }, warmColors);
heatmap({ ...leftCol, y: 155, h: 63 }, globalBands, surfaceFlux, { min: 0.3, max: 2.93 }, warmColors);
heatmap({ ...leftCol, y: 227, h: 60 }, globalBands, cloudFlux, { min: 0, max: 10 }, warmColors, southNorthAxis);

heatmap({ ...rightCol, y: 14, h: 62 }, northBands, totalDiff, { min: -2.1, max: 2.1 }, divergingColors);
heatmap({ ...rightCol, y: 84, h: 62 }, northBands, clearDiff, { min: -0.13, max: 1.32 }, redColors);
heatmap({ ...rightCol, y: 155, h: 62 }, northBands, surfaceDiff, { min: -1.5, max: 1.2 }, divergingColors);
heatmap({ ...rightCol, y: 227, h: 61 }, northBands, cloudDiff, { min: -2, max: 2 }, divergingColors, northAxis);

colorBar({ x: 179, w: 7, y: 14, h: 63 }, [5, 10, 15], 1, { min: 1.3, max: 18.1 }, warmColors);
colorBar({ x: 179, w: 7, y: 84, h: 62 }, [0.5, 2.5, 4.5, 6.5], 1, { min: 0.5, max: 6.5 }, warmColors);
colorBar({ x: 179, w: 7, y: 155, h: 63 }, [0.5, 1.0, 1.5, 2.0, 2.5], 1, { min: 0.3, max: 2.93 }, warmColors);
colorBar({ x: 179, w: 7, y: 227, h: 60 }, [0, 2, 4, 6, 8, 10], 1, { min: 0, max: 10 }, warmColors);

colorBar({ x: 383, w: 7, y: 14, h: 62 }, [-2.1, -1.26, -0.42, 0.42, 1.26, 2.1], 2, { min: -2.1, max: 2.1 }, divergingColors);
colorBar({ x: 383, w: 7, y: 84, h: 62 }, [-0.13, 0.13, 0.39, 0.65, 0.91, 1.17], 2, { min: -0.13, max: 1.32 }, redColors);
colorBar({ x: 383, w: 7, y: 155, h: 62 }, [-1.5, -0.9, -0.3, 0.3, 0.9], 2, { min: -1.5, max: 1.2 }, divergingColors);
colorBar({ x: 383, w: 7, y: 227, h: 61 }, [-2, -1.2, -0.4, 0.4, 1.2, 2], 2, { min: -2, max: 2 }, divergingColors);

/*
 * Middle of each stacked segment, where the reference puts a small hollow circle
 */
function segmentMiddles(values, below) {
    return values.map((v, i) => {
        if (Math.abs(v) < 0.014) return null;
        let start = 0;
        below.forEach(other => {
            if (other[i] * v > 0) start += other[i];
        });
        return { x: start + v / 2, y: i };
    }).filter(p => p);
}

function trendBars(label, values, color) {
    return {
        type: "bar",
        label: label,
        stack: "bars",
        data: values.map((v, i) => ({ x: v, y: i })),
        backgroundColor: color,
        borderColor: "#8f8f8f",
        borderWidth: 0.9,
        barThickness: 10,
        order: 3
    };
}

function trendCircles(points, color, name) {
    return {
        type: "line",
        label: name,
        stack: name,
        indexAxis: "y",
        showLine: false,
        data: points,
        pointRadius: 1.9,
        pointBackgroundColor: "rgba(0,0,0,0)",
        pointBorderColor: color,
        pointBorderWidth: 0.8,
        order: 2
    };
}

new Chart(addCanvas(410, 23, 190, 285), {
    type: "bar",
    data: {
        datasets: [
            trendBars("Clear-sky component", clearTrend, "#fdbbd0"),
            trendBars("Surface component", surfaceTrend, "#fdeec8"),
            trendBars("Cloud component", cloudTrend, "#85cdea"),
            {
                type: "line",
                label: "Total reflected radiation",
                stack: "total",
                indexAxis: "y",
                data: totalTrend.map((v, i) => ({ x: v, y: i })),
                borderColor: "#a65a3c",
                borderWidth: 1,
                pointRadius: ctx => ctx.dataIndex === 8 ? 0 : 1.8,
                pointBorderWidth: 0.5,
                pointBackgroundColor: "#6e2410",
                pointBorderColor: "#6e2410",
                order: 1
            },
            trendCircles(segmentMiddles(clearTrend, []), "#8d7f88", "clear marks"),
            trendCircles(segmentMiddles(surfaceTrend, [clearTrend]), "#8d8468", "surface marks"),
            trendCircles(segmentMiddles(cloudTrend, [clearTrend, surfaceTrend]), "#557f98", "cloud marks")
        ]
    },
    plugins: [framePlugin, legendPlacePlugin],
    options: {
        indexAxis: "y",
        responsive: false,
        animation: false,
        layout: { padding: { top: 5, right: 0, bottom: 0, left: 18 } },
        plugins: {
            tooltip: { enabled: false },
            legend: {
                position: "chartArea",
                align: "start",
                labels: {
                    generateLabels: chart => Chart.defaults.plugins.legend.labels.generateLabels(chart)
                        .filter(item => item.datasetIndex < 4)
                        .sort((a, b) => a.datasetIndex - b.datasetIndex)
                        .map(item => item.datasetIndex === 3
                            ? { ...item, pointStyle: "line", lineWidth: 1, strokeStyle: "#a65a3c" }
                            : { ...item, pointStyle: "rect" }),
                    usePointStyle: true,
                    pointStyleWidth: 12,
                    boxHeight: 5,
                    padding: 1.3,
                    color: "#333",
                    font: { family: serif, size: 5.4, weight: "bold" }
                }
            }
        },
        scales: {
            y: {
                type: "linear",
                position: "right",
                offset: false,
                reverse: true,
                min: -2.15,
                max: 18.13,
                grid: { display: false, drawTicks: false },
                border: { display: false },
                afterBuildTicks: axis => { axis.ticks = zoneIndex.map(v => ({ value: v })); },
                afterFit: axis => { axis.width = 52; },
                ticks: {
                    padding: 3,
                    autoSkip: false,
                    color: "#222",
                    font: { family: serif, size: 6, weight: "bold" },
                    callback: v => zoneLabels[v]
                }
            },
            side: {
                type: "linear",
                axis: "y",
                position: "left",
                offset: false,
                reverse: true,
                min: -6.1,
                max: 90.4,
                grid: { color: "#dddddd", tickLength: 2, tickColor: "#888888" },
                border: { display: false, dash: [2, 2] },
                afterBuildTicks: axis => { axis.ticks = sideTicks.map(v => ({ value: v })); },
                afterFit: axis => { axis.width = 0; },
                ticks: { display: false }
            },
            x: {
                type: "linear",
                stacked: true,
                min: -0.25,
                max: 0.05,
                grid: { color: "#dddddd", drawTicks: false },
                border: { display: false, dash: [2, 2] },
                afterBuildTicks: axis => { axis.ticks = trendTicks.map(v => ({ value: v })); },
                afterFit: axis => { axis.height = 35; },
                ticks: {
                    padding: 3,
                    autoSkip: false,
                    minRotation: 45,
                    maxRotation: 45,
                    color: "#222",
                    font: { family: serif, size: 6, weight: "bold" },
                    callback: v => v.toFixed(2)
                }
            }
        }
    }
});

// panel titles
addLabel("(a)Total Reflected Radiation", 102.5, 8, 8.6);
addLabel("(b)Clear-sky Atmospheric Component", 102, 80, 8.6);
addLabel("(c)Surface Component", 101, 150.7, 8.6);
addLabel("(d)Cloud Component", 102.5, 221.7, 8.6);
addLabel("(e)Total Reflected Radiation(NH-SH)", 306.7, 10, 8.6);
addLabel("(f)Clear-sky Atmospheric Component(NH-SH)", 305.5, 80, 8.6);
addLabel("(g)Surface Component(NH-SH)", 306.5, 150.7, 8.6);
addLabel("(h)Cloud Component(NH-SH)", 306.5, 222, 8.6);
addLabel("(i)Trends of reflected radiation flux", 489, 10, 9.8);
addLabel("in different latitudinal zones", 490, 22, 9.8);

// axis names
[48, 115, 191, 257].forEach(y => addLabel("Year", 11, y, 8.6, true));
[46, 115, 192, 255].forEach(y => addLabel("Wm<sup>-2</sup>", 204, y, 9.5, true));
[46, 113, 192, 257].forEach(y => addLabel("Wm<sup>-2</sup>", 411, y, 9.5, true));
addLabel("Latitude", 107, 297, 8.6);
addLabel("Latitude", 310, 297, 8.6);
addLabel("Latitude", 590, 150, 11.8, true);
addLabel("Trend (W m<sup>-2</sup> decade<sup>-1</sup>)", 488.5, 297, 7);
</script>
</body>
</html>
